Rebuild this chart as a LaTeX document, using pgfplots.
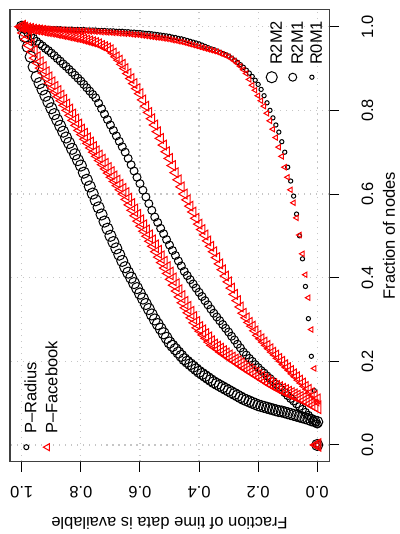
\documentclass[border=0pt]{standalone}
\usepackage{graphicx}
\usepackage{fontspec}
\setmainfont{Liberation Sans}
\usepackage{pgfplots}
\usepackage{pgfplotstable}
\pgfplotsset{compat=1.18}

% t = fraction of time data is available, A..F = fraction of nodes
% A,B,C: P-Radius (R2M2, R2M1, R0M1); D,E,F: P-Facebook (R2M2, R2M1, R0M1)
\pgfplotstableread{
t    A     B     C     D     E     F
0    0     0     0     0     0     0
0.00 0.055 0.050 0.050 0.090 0.110 0.100
0.01 0.057 0.057 0.130 0.094 0.118 0.183
0.02 0.059 0.064 0.212 0.098 0.125 0.276
0.03 0.062 0.071 0.302 0.102 0.133 0.352
0.04 0.064 0.078 0.379 0.106 0.140 0.407
0.05 0.066 0.085 0.445 0.110 0.148 0.457
0.06 0.068 0.092 0.500 0.113 0.155 0.502
0.07 0.070 0.098 0.552 0.116 0.163 0.543
0.08 0.072 0.105 0.595 0.119 0.170 0.579
0.09 0.074 0.111 0.631 0.122 0.178 0.610
0.10 0.076 0.118 0.664 0.125 0.185 0.640
0.11 0.078 0.125 0.700 0.129 0.192 0.664
0.12 0.080 0.132 0.725 0.132 0.200 0.690
0.13 0.081 0.138 0.748 0.136 0.207 0.712
0.14 0.083 0.145 0.765 0.139 0.215 0.735
0.15 0.085 0.152 0.782 0.143 0.222 0.755
0.16 0.087 0.159 0.800 0.147 0.230 0.775
0.17 0.089 0.165 0.818 0.152 0.238 0.793
0.18 0.091 0.172 0.835 0.156 0.246 0.810
0.19 0.093 0.178 0.850 0.161 0.254 0.823
0.20 0.095 0.185 0.862 0.165 0.262 0.835
0.21 0.098 0.192 0.872 0.170 0.273 0.848
0.22 0.101 0.200 0.881 0.174 0.284 0.860
0.23 0.104 0.207 0.889 0.179 0.293 0.874
0.24 0.107 0.215 0.896 0.183 0.304 0.888
0.25 0.110 0.222 0.903 0.188 0.315 0.897
0.26 0.114 0.232 0.909 0.193 0.330 0.905
0.27 0.118 0.241 0.915 0.198 0.345 0.912
0.28 0.122 0.251 0.920 0.202 0.360 0.918
0.29 0.126 0.260 0.925 0.207 0.375 0.923
0.30 0.130 0.270 0.930 0.212 0.390 0.928
0.31 0.134 0.279 0.933 0.217 0.404 0.931
0.32 0.138 0.288 0.936 0.222 0.419 0.934
0.33 0.142 0.297 0.939 0.228 0.433 0.937
0.34 0.146 0.306 0.942 0.233 0.448 0.940
0.35 0.150 0.315 0.945 0.238 0.462 0.942
0.36 0.155 0.325 0.947 0.246 0.475 0.944
0.37 0.160 0.335 0.950 0.255 0.488 0.946
0.38 0.165 0.345 0.953 0.263 0.502 0.948
0.39 0.170 0.355 0.956 0.272 0.515 0.950
0.40 0.175 0.365 0.959 0.280 0.528 0.952
0.41 0.181 0.375 0.961 0.292 0.542 0.954
0.42 0.187 0.385 0.963 0.304 0.557 0.956
0.43 0.193 0.395 0.965 0.316 0.571 0.958
0.44 0.199 0.405 0.967 0.328 0.586 0.960
0.45 0.205 0.415 0.969 0.340 0.600 0.962
0.46 0.213 0.428 0.971 0.354 0.617 0.964
0.47 0.221 0.440 0.972 0.368 0.634 0.965
0.48 0.229 0.453 0.974 0.382 0.651 0.967
0.49 0.237 0.465 0.975 0.396 0.668 0.968
0.50 0.245 0.478 0.977 0.410 0.685 0.970
0.51 0.256 0.491 0.978 0.423 0.701 0.971
0.52 0.267 0.505 0.979 0.436 0.717 0.972
0.53 0.278 0.518 0.980 0.449 0.733 0.973
0.54 0.289 0.532 0.981 0.462 0.749 0.974
0.55 0.300 0.545 0.982 0.475 0.765 0.975
0.56 0.312 0.561 0.983 0.487 0.780 0.976
0.57 0.325 0.577 0.984 0.499 0.795 0.977
0.58 0.337 0.593 0.984 0.511 0.810 0.978
0.59 0.350 0.609 0.985 0.523 0.825 0.979
0.60 0.362 0.625 0.986 0.535 0.840 0.980
0.61 0.375 0.640 0.986 0.548 0.852 0.981
0.62 0.387 0.655 0.987 0.561 0.864 0.981
0.63 0.400 0.670 0.987 0.574 0.876 0.982
0.64 0.412 0.685 0.988 0.587 0.888 0.983
0.65 0.425 0.700 0.988 0.600 0.900 0.983
0.66 0.440 0.713 0.989 0.610 0.910 0.984
0.67 0.455 0.726 0.989 0.620 0.920 0.984
0.68 0.470 0.739 0.989 0.630 0.928 0.985
0.69 0.485 0.752 0.990 0.640 0.937 0.985
0.70 0.500 0.765 0.990 0.650 0.945 0.986
0.71 0.517 0.778 0.990 0.660 0.949 0.986
0.72 0.534 0.791 0.991 0.670 0.952 0.987
0.73 0.551 0.804 0.991 0.680 0.955 0.987
0.74 0.568 0.817 0.991 0.690 0.959 0.988
0.75 0.585 0.830 0.992 0.700 0.962 0.988
0.76 0.601 0.838 0.992 0.710 0.964 0.989
0.77 0.618 0.846 0.992 0.721 0.966 0.989
0.78 0.634 0.854 0.992 0.731 0.968 0.990
0.79 0.651 0.862 0.993 0.742 0.970 0.990
0.80 0.668 0.870 0.993 0.752 0.972 0.990
0.81 0.681 0.877 0.993 0.764 0.974 0.991
0.82 0.695 0.884 0.993 0.776 0.975 0.991
0.83 0.708 0.891 0.994 0.788 0.977 0.991
0.84 0.722 0.898 0.994 0.800 0.978 0.992
0.85 0.735 0.905 0.994 0.812 0.980 0.992
0.86 0.749 0.911 0.994 0.823 0.981 0.993
0.87 0.763 0.918 0.995 0.833 0.983 0.993
0.88 0.777 0.924 0.995 0.844 0.984 0.993
0.89 0.791 0.931 0.995 0.854 0.986 0.994
0.90 0.805 0.937 0.995 0.865 0.987 0.994
0.91 0.820 0.943 0.996 0.877 0.988 0.995
0.92 0.835 0.948 0.996 0.889 0.989 0.995
0.93 0.850 0.954 0.996 0.901 0.991 0.995
0.94 0.865 0.959 0.997 0.913 0.992 0.996
0.95 0.880 0.965 0.997 0.925 0.993 0.996
0.96 0.904 0.972 0.997 0.940 0.994 0.997
0.97 0.928 0.979 0.998 0.955 0.996 0.997
0.98 0.952 0.986 0.998 0.970 0.997 0.998
0.99 0.976 0.993 0.999 0.985 0.999 0.999
1.00 1.000 1.000 1.000 1.000 1.000 1.000
}\avail

\newcommand{\rfont}{\fontsize{12.4}{14.9}\selectfont}

\pgfplotsset{
  rframe/.style={
    width=339.75pt, height=240pt, scale only axis,
    xmin=-0.04, xmax=1.04, ymin=-0.04, ymax=1.04,
  },
  rlegend/.style={
    legend cell align=left,
    legend image code/.code={\draw[##1] plot coordinates {(0pt,4.4pt)};},
    legend style={draw=none, fill=none, inner sep=0pt, outer sep=0pt,
      font=\rfont, row sep=2.6pt,
      nodes={inner sep=0pt, text height=9pt, text depth=2.6pt}},
  },
}

\begin{document}
\rotatebox{90}{%
\begin{tikzpicture}
\begin{axis}[
  rframe, rlegend,
  xtick={0,0.2,0.4,0.6,0.8,1}, ytick={0,0.2,0.4,0.6,0.8,1},
  xticklabels={0.0,0.2,0.4,0.6,0.8,1.0},
  yticklabels={0.0,0.2,0.4,0.6,0.8,1.0},
  tick pos=left, tick align=outside, major tick length=7.5pt,
  tick style={black, line width=0.75pt},
  axis line style={black!75, line width=0.8pt},
  grid=major,
  grid style={gray!45, line width=0.9pt, dash pattern=on 0.9pt off 3.6pt},
  ticklabel style={font=\rfont},
  xticklabel style={anchor=center, yshift=-21.4pt},
  yticklabel style={xshift=-15.75pt, rotate=90, anchor=center},
  xlabel={Fraction of nodes},
  ylabel={Fraction of time data is available},
  every axis x label/.style={at={(axis description cs:0.5,0)},
    yshift=-45pt, anchor=center, font=\rfont},
  every axis y label/.style={at={(axis description cs:0,0.5)},
    xshift=-46.5pt, rotate=90, anchor=center, font=\rfont},
  legend style={at={(axis description cs:0.033,0.9375)}, anchor=north west,
    xshift=-2.9pt, yshift=4.6pt, column sep=7.5pt},
]
\addlegendimage{only marks, mark=o, mark size=1.9pt, black, line width=0.75pt}
\addlegendentry{P--Radius}
\addlegendimage{only marks, mark=triangle, mark size=3pt, red, line width=0.75pt}
\addlegendentry{P--Facebook}

\addplot[only marks, mark=o, mark size=4.2pt, black, line width=0.75pt, forget plot]
  table[x=A, y=t] {\avail};
\addplot[only marks, mark=o, mark size=3.0pt, black, line width=0.75pt, forget plot]
  table[x=B, y=t] {\avail};
\addplot[only marks, mark=o, mark size=1.6pt, black, line width=0.75pt, forget plot]
  table[x=C, y=t] {\avail};
\addplot[only marks, mark=triangle, mark size=5.4pt, red, line width=0.75pt, forget plot]
  table[x=D, y=t] {\avail};
\addplot[only marks, mark=triangle, mark size=4.2pt, red, line width=0.75pt, forget plot]
  table[x=E, y=t] {\avail};
\addplot[only marks, mark=triangle, mark size=2.3pt, red, line width=0.75pt, forget plot]
  table[x=F, y=t] {\avail};

\coordinate (fsw) at (rel axis cs:0,0);
\coordinate (fne) at (rel axis cs:1,1);
\end{axis}

\begin{axis}[
  rframe, rlegend, hide axis,
  legend style={at={(axis description cs:0.852,0.178)}, anchor=north west,
    xshift=-4.5pt, yshift=4.6pt, column sep=5pt},
]
\addlegendimage{only marks, mark=o, mark size=4.2pt, black, line width=0.75pt}
\addlegendentry{R2M2}
\addlegendimage{only marks, mark=o, mark size=3.0pt, black, line width=0.75pt}
\addlegendentry{R2M1}
\addlegendimage{only marks, mark=o, mark size=1.6pt, black, line width=0.75pt}
\addlegendentry{R0M1}
\end{axis}

\path ([xshift=-53.25pt, yshift=-52.5pt]fsw) rectangle ([xshift=7.5pt, yshift=7.5pt]fne);
\end{tikzpicture}}
\end{document}
